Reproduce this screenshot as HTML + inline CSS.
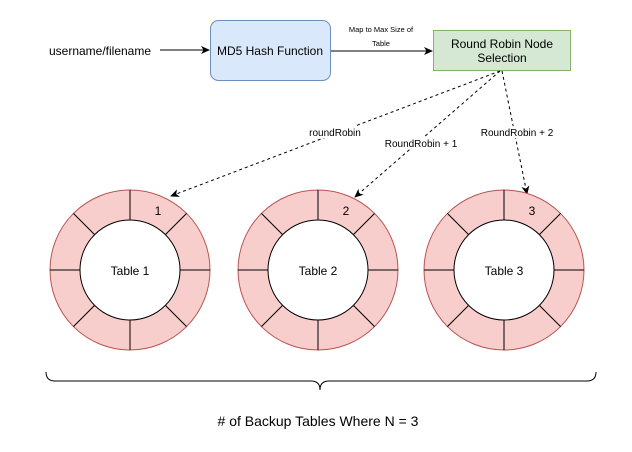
<!DOCTYPE html>
<html><head><meta charset="utf-8"><style>
html,body{margin:0;padding:0;background:#fff;}
svg{display:block;font-family:"Liberation Sans",Helvetica,Arial,sans-serif;}
</style></head><body>
<svg width="632" height="452" viewBox="0 0 632 452" xmlns="http://www.w3.org/2000/svg">
<defs>
<marker id="a" markerWidth="10" markerHeight="10" refX="8" refY="5" orient="auto" markerUnits="userSpaceOnUse">
<path d="M0,1 L9,5 L0,9 L2.5,5 Z" fill="#000"/></marker>
<g id="ring">
<circle r="80" fill="#f8cecc" stroke="#b85450" stroke-width="1"/>
<g stroke="#000" stroke-width="1">
<line x1="0" y1="-50" x2="0" y2="-80"/><line x1="0" y1="50" x2="0" y2="80"/>
<line x1="-50" y1="0" x2="-80" y2="0"/><line x1="50" y1="0" x2="80" y2="0"/>
<line x1="35.4" y1="-35.4" x2="56.6" y2="-56.6"/><line x1="-35.4" y1="-35.4" x2="-56.6" y2="-56.6"/>
<line x1="35.4" y1="35.4" x2="56.6" y2="56.6"/><line x1="-35.4" y1="35.4" x2="-56.6" y2="56.6"/>
</g>
<circle r="50" fill="#fff" stroke="#000" stroke-width="1"/>
</g>
</defs>
<text x="100" y="55" font-size="12" text-anchor="middle">username/filename</text>
<line x1="160" y1="50" x2="209" y2="50" stroke="#000" marker-end="url(#a)"/>
<rect x="210.5" y="20.5" width="120" height="60" rx="8" fill="#dae8fc" stroke="#6c8ebf"/>
<text x="270" y="55" font-size="12" text-anchor="middle">MD5 Hash Function</text>
<line x1="331" y1="51" x2="432" y2="51" stroke="#000" marker-end="url(#a)"/>
<text x="381" y="32" font-size="7.5" text-anchor="middle">Map to Max Size of</text>
<text x="381" y="46" font-size="7.5" text-anchor="middle">Table</text>
<rect x="433.5" y="30.5" width="137" height="40" fill="#d5e8d4" stroke="#82b366"/>
<text x="502" y="48" font-size="12" text-anchor="middle">Round Robin Node</text>
<text x="502" y="62" font-size="12" text-anchor="middle">Selection</text>
<g stroke="#000" stroke-dasharray="3,3" fill="none">
<line x1="500" y1="71" x2="171" y2="196" marker-end="url(#a)"/>
<line x1="500" y1="71" x2="355" y2="197" marker-end="url(#a)"/>
<line x1="502" y1="71" x2="527" y2="194" marker-end="url(#a)"/>
</g>
<g font-size="10" text-anchor="middle">
<rect x="305" y="126" width="60" height="12" fill="#fff"/>
<text x="335" y="136">roundRobin</text>
<rect x="380" y="137" width="82" height="12" fill="#fff"/>
<text x="421" y="147">RoundRobin + 1</text>
<rect x="476" y="126" width="82" height="12" fill="#fff"/>
<text x="517" y="136">RoundRobin + 2</text>
</g>
<use href="#ring" x="130" y="270"/>
<use href="#ring" x="318" y="270"/>
<use href="#ring" x="504" y="270"/>
<g font-size="12" text-anchor="middle">
<text x="130" y="275">Table 1</text><text x="158" y="215">1</text>
<text x="318" y="275">Table 2</text><text x="346" y="215">2</text>
<text x="504" y="275">Table 3</text><text x="532" y="215">3</text>
</g>
<path d="M46,372 Q46,381 55,381 L311,381 Q320,381 320,390 Q320,381 329,381 L587,381 Q596,381 596,372" fill="none" stroke="#000"/>
<text x="318" y="426" font-size="14" text-anchor="middle"># of Backup Tables Where N = 3</text>
</svg>
</body></html>
